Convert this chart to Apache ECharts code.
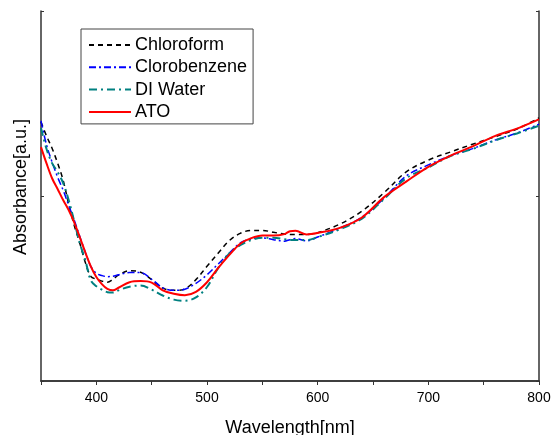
<!DOCTYPE html>
<html>
<head>
<meta charset="utf-8">
<script src="https://cdn.jsdelivr.net/npm/echarts@6/dist/echarts.min.js"></script>
<style>
  html, body { margin: 0; padding: 0; background: #fff; }
  #chart { width: 552px; height: 435px; }
</style>
</head>
<body>
<div id="chart"></div>
<script>
// wavelength grid (nm)
const wavelength = [350,355,360,365,370,375,380,385,390,395,400,405,410,415,420,
  430,440,450,460,470,480,490,500,510,520,530,540,550,560,570,
  575,580,590,600,620,640,660,680,700,720,740,760,780,800];

// absorbance, arbitrary units (0-100 of the plot height)
const chloroform = [70.0,66.2,62.9,58.9,54.3,47.8,42.1,37.3,32.1,28.3,27.5,27.0,26.7,27.5,28.6,
  29.8,29.4,27.4,25.1,24.5,24.9,27.4,31.0,34.5,37.9,39.9,40.7,40.7,40.2,39.7,
  39.6,39.6,39.6,40.1,42.4,45.9,50.9,56.5,59.7,61.9,64.0,66.0,68.1,71.1];
const clorobenzene = [70.3,63.8,59.2,55.1,51.6,47.5,43.5,39.1,34.8,31.0,29.1,28.5,28.2,28.3,28.7,
  29.3,29.3,27.5,25.2,24.5,24.8,26.4,28.7,31.6,34.5,37.3,38.4,38.7,38.2,37.8,
  38.2,38.5,37.9,38.9,41.3,44.3,49.4,55.4,58.4,60.9,62.8,65.1,67.0,69.4];
const diWater = [68.4,62.7,58.9,56.5,53.5,48.9,43.2,37.3,32.7,27.2,25.6,24.7,24.0,23.9,24.5,
  25.5,25.8,24.7,23.1,22.0,21.7,22.6,25.4,30.5,34.4,36.7,38.1,38.7,38.7,38.3,
  38.1,38.1,38.1,38.9,41.0,43.9,49.2,54.8,57.7,60.8,62.7,65.0,66.9,69.0];
const ato = [63.2,58.8,54.8,51.9,48.9,46.2,42.9,38.9,34.8,31.0,28.1,26.2,24.9,24.5,25.2,
  26.7,27.0,26.6,24.5,23.6,23.2,24.1,26.7,30.5,34.0,37.1,38.6,39.3,39.3,39.7,
  40.5,40.6,39.6,40.0,41.4,44.2,49.7,53.9,57.9,60.9,63.4,66.2,68.2,70.7];

const font = '"Liberation Sans", Arial, sans-serif';
const frameColor = '#333';

const pairs = (ys) => wavelength.map((w, i) => [w, ys[i]]);

const makeSeries = (name, ys, color, type, width) => ({
  name,
  type: 'line',
  data: pairs(ys),
  smooth: 0.35,
  symbol: 'none',
  lineStyle: { color, width, type },
  itemStyle: { color },
  z: name === 'ATO' ? 5 : 3
});

const chart = echarts.init(document.getElementById('chart'));
const option = {
  backgroundColor: '#fff',
  animation: false,
  grid: { left: 41, right: 13, top: 11, bottom: 54, containLabel: false, outerBoundsMode: 'none' },
  legend: {
    left: 81,
    top: 29,
    orient: 'vertical',
    backgroundColor: '#fff',
    borderColor: '#444',
    borderWidth: 1,
    borderRadius: 0,
    padding: [7, 6, 3, 7],
    itemWidth: 42,
    itemHeight: 18,
    itemGap: 4.3,
    itemStyle: { opacity: 0 },
    textStyle: { fontSize: 18, color: '#000', fontFamily: font, padding: [0, 0, 0, -1] },
    data: ['Chloroform', 'Clorobenzene', 'DI Water', 'ATO']
  },
  xAxis: [
    {
      type: 'value',
      position: 'bottom',
      min: 350,
      max: 800,
      interval: 50,
      name: 'Wavelength[nm]',
      nameLocation: 'middle',
      nameGap: 38,
      nameTextStyle: { fontSize: 18, color: '#000', fontFamily: font },
      axisLine: { lineStyle: { color: frameColor, width: 1.5 } },
      axisTick: { inside: false, length: 4, lineStyle: { color: frameColor } },
      axisLabel: {
        fontSize: 14, color: '#000', fontFamily: font, margin: 10,
        formatter: (v) => (v % 100 === 0 ? String(v) : '')
      },
      splitLine: { show: false }
    },
    {
      type: 'value',
      position: 'top',
      min: 350,
      max: 800,
      interval: 50,
      axisLine: { lineStyle: { color: frameColor, width: 1.5 } },
      axisTick: { inside: true, length: 3, lineStyle: { color: frameColor } },
      axisLabel: { show: false },
      splitLine: { show: false }
    }
  ],
  yAxis: [
    {
      type: 'value',
      position: 'left',
      min: 0,
      max: 100,
      interval: 50,
      name: 'Absorbance[a.u.]',
      nameLocation: 'middle',
      nameGap: 11,
      nameTextStyle: { fontSize: 18, color: '#000', fontFamily: font, padding: [0, 0, 0, 18] },
      axisLine: { show: true, lineStyle: { color: frameColor, width: 1.5 } },
      axisTick: { show: true, inside: true, length: 3, lineStyle: { color: frameColor } },
      axisLabel: { show: false },
      splitLine: { show: false }
    },
    {
      type: 'value',
      position: 'right',
      min: 0,
      max: 100,
      interval: 50,
      axisLine: { show: true, lineStyle: { color: frameColor, width: 1.5 } },
      axisTick: { show: true, inside: true, length: 3, lineStyle: { color: frameColor } },
      axisLabel: { show: false },
      splitLine: { show: false }
    }
  ],
  series: [
    makeSeries('Chloroform', chloroform, '#000000', [5, 4], 1.5),
    makeSeries('Clorobenzene', clorobenzene, '#0000ff', [7, 3, 2, 3], 1.5),
    makeSeries('DI Water', diWater, '#008080', [8, 4, 2, 4], 2),
    makeSeries('ATO', ato, '#ff0000', 'solid', 2)
  ]
};
chart.setOption(option);
</script>
</body>
</html>
